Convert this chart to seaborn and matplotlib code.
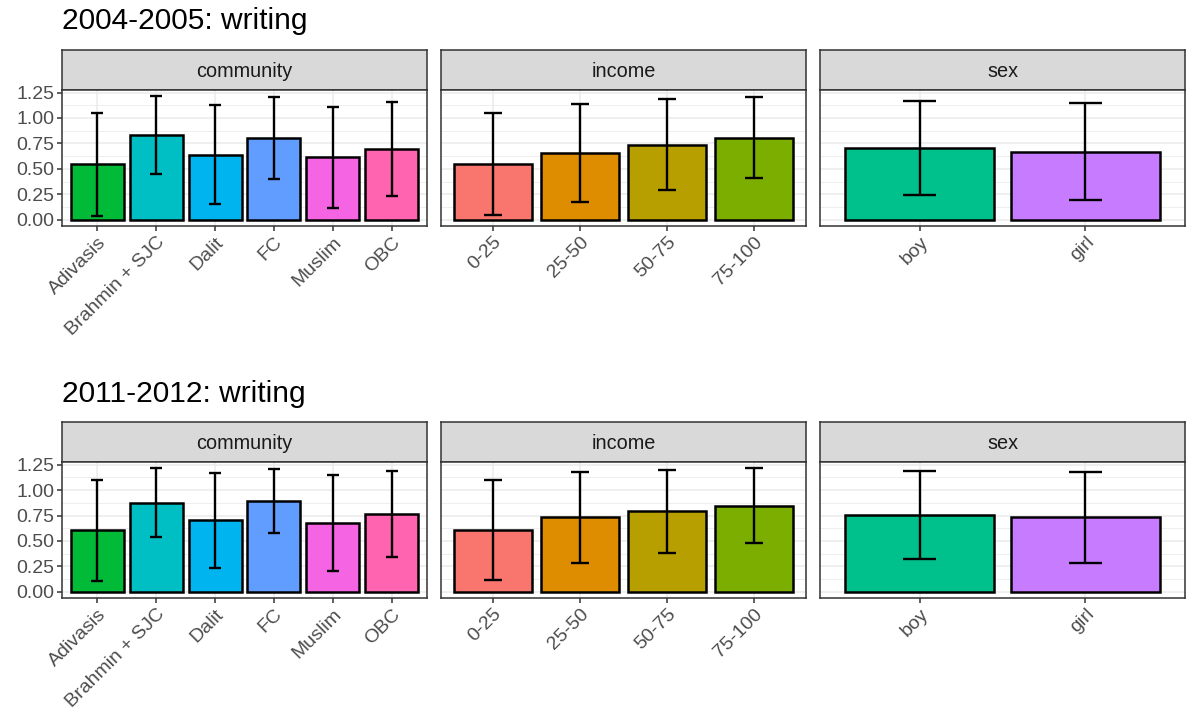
import numpy as np
import pandas as pd
import matplotlib
matplotlib.use("Agg")
import matplotlib.pyplot as plt
import seaborn as sns

sns.set_style("white")
plt.rcParams["font.family"] = ["Liberation Sans", "DejaVu Sans"]

# ---------------- DATA ---------------- #

community = ["Adivasis", "Brahmin + SJC", "Dalit", "FC", "Muslim", "OBC"]
income = ["0-25", "25-50", "50-75", "75-100"]
sex = ["boy", "girl"]

# 2004-2005: mean and sd
community_mean_0405 = [0.547, 0.830, 0.641, 0.801, 0.612, 0.697]
community_sd_0405 = [0.505, 0.384, 0.485, 0.405, 0.492, 0.464]
income_mean_0405 = [0.547, 0.658, 0.739, 0.807]
income_sd_0405 = [0.501, 0.482, 0.445, 0.397]
sex_mean_0405 = [0.706, 0.667]
sex_sd_0405 = [0.461, 0.476]

# 2011-2012: mean and sd
community_mean_1112 = [0.605, 0.876, 0.703, 0.895, 0.677, 0.765]
community_sd_1112 = [0.494, 0.340, 0.464, 0.317, 0.474, 0.427]
income_mean_1112 = [0.612, 0.732, 0.794, 0.846]
income_sd_1112 = [0.492, 0.448, 0.409, 0.368]
sex_mean_1112 = [0.755, 0.732]
sex_sd_1112 = [0.436, 0.446]

# ggplot hue palette over all 12 levels
palette = {
    "0-25": "#F8766D", "25-50": "#DE8C00", "50-75": "#B79F00", "75-100": "#7CAE00",
    "Adivasis": "#00BA38", "boy": "#00C08B", "Brahmin + SJC": "#00BFC4",
    "Dalit": "#00B4F0", "FC": "#619CFF", "girl": "#C77CFF",
    "Muslim": "#F564E3", "OBC": "#FF64B0",
}

# ---------------- LAYOUT ---------------- #

W, H = 1186, 719
fig = plt.figure(figsize=(W / 100, H / 100), dpi=100)

panel_x = [62, 441, 820]
panel_w = 365
strip_h = 40
panel_h = 136


def add_axes_px(x, y_top, w, h):
    return fig.add_axes([x / W, 1 - (y_top + h) / H, w / W, h / H])


def draw_row(title, title_y, strip_top, facets):
    fig.text(panel_x[0] / W, 1 - title_y / H, title, fontsize=21.5,
             color="black", va="baseline", ha="left")

    top = max(max(np.array(m) + np.array(s)) for _, _, m, s in facets)
    span = top - 0
    ylim = (0 - 0.05 * span, top + 0.05 * span)

    for i, (name, cats, means, sds) in enumerate(facets):
        df = pd.DataFrame({"cat": cats, "mean": means, "sd": sds})
        lo = df["mean"] - df["sd"]
        hi = df["mean"] + df["sd"]
        pos = np.arange(len(cats))

        # strip
        sax = add_axes_px(panel_x[i], strip_top, panel_w, strip_h)
        sax.set_facecolor("#D9D9D9")
        sax.set_xticks([])
        sax.set_yticks([])
        for sp in sax.spines.values():
            sp.set_color("#333333")
            sp.set_linewidth(1.1)
        sax.text(0.5, 0.47, name, transform=sax.transAxes, ha="center",
                 va="center", fontsize=14.3, color="#1A1A1A")

        # panel
        ax = add_axes_px(panel_x[i], strip_top + strip_h, panel_w, panel_h)
        sns.barplot(data=df, x="cat", y="mean", hue="cat", order=cats,
                    hue_order=cats, palette=palette, saturation=1, legend=False,
                    ax=ax, width=0.9, edgecolor="black", linewidth=1.8, zorder=2)
        ax.vlines(pos, lo, hi, color="black", linewidth=1.7, zorder=3)
        ax.hlines(lo, pos - 0.1, pos + 0.1, color="black", linewidth=1.7, zorder=3)
        ax.hlines(hi, pos - 0.1, pos + 0.1, color="black", linewidth=1.7, zorder=3)

        ax.set_xlim(-0.6, len(cats) - 0.4)
        ax.set_ylim(*ylim)
        ax.set_yticks(np.arange(0, 1.26, 0.25))
        ax.set_yticks(np.arange(0.125, 1.26, 0.25), minor=True)
        ax.set_xlabel("")
        ax.set_ylabel("")

        ax.set_axisbelow(True)
        ax.grid(True, which="major", color="#EBEBEB", linewidth=1.1)
        ax.grid(True, which="minor", axis="y", color="#EBEBEB", linewidth=0.6)
        for sp in ax.spines.values():
            sp.set_color("#333333")
            sp.set_linewidth(1.1)
            sp.set_zorder(4)

        ax.tick_params(axis="both", which="major", direction="out", length=3.5,
                       width=1.1, color="#333333", labelcolor="#4D4D4D",
                       labelsize=14, pad=2, bottom=True, left=(i == 0))
        ax.tick_params(axis="y", which="minor", length=0)
        if i == 0:
            ax.set_yticklabels([f"{v:.2f}" for v in np.arange(0, 1.26, 0.25)])
        else:
            ax.set_yticklabels([])
        ax.set_xticks(pos)
        ax.set_xticklabels(cats)
        for lab in ax.get_xticklabels():
            lab.set_rotation(45)
            lab.set_ha("right")
            lab.set_va("top")
            lab.set_rotation_mode("anchor")


draw_row("2004-2005: writing", 29, 50, [
    ("community", community, community_mean_0405, community_sd_0405),
    ("income", income, income_mean_0405, income_sd_0405),
    ("sex", sex, sex_mean_0405, sex_sd_0405),
])

draw_row("2011-2012: writing", 402, 422, [
    ("community", community, community_mean_1112, community_sd_1112),
    ("income", income, income_mean_1112, income_sd_1112),
    ("sex", sex, sex_mean_1112, sex_sd_1112),
])

fig.savefig("out.png", dpi=100)
